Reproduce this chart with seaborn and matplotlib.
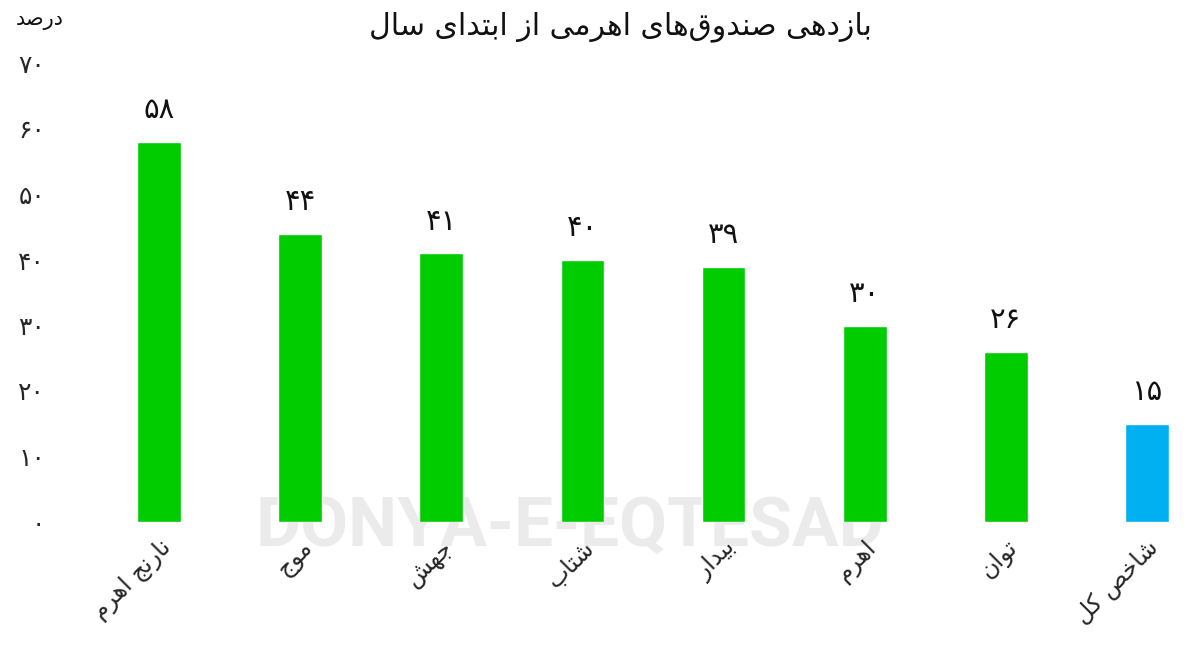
import matplotlib
matplotlib.use("Agg")
import matplotlib.pyplot as plt
import seaborn as sns

# ---------------- data ----------------
categories = ["نارنج اهرم", "موج", "جهش", "شتاب", "بیدار", "اهرم", "توان", "شاخص کل"]
values = [58, 44, 41, 40, 39, 30, 26, 15]
bar_colors = ["#00CC00", "#00CC00", "#00CC00", "#00CC00", "#00CC00", "#00CC00", "#00CC00", "#00B0F0"]
y_ticks = [0, 10, 20, 30, 40, 50, 60, 70]
title_text = "بازدهی صندوق\u200cهای اهرمی از ابتدای سال"
unit_text = "درصد"
watermark_text = "DONYA-E-EQTESAD"

# ---------------- simple Persian shaping ----------------
FORMS = {
    "\u0627": ("\uFE8D", "\uFE8E", None, None),
    "\u0622": ("\uFE81", "\uFE82", None, None),
    "\u0628": ("\uFE8F", "\uFE90", "\uFE91", "\uFE92"),
    "\u067E": ("\uFB56", "\uFB57", "\uFB58", "\uFB59"),
    "\u062A": ("\uFE95", "\uFE96", "\uFE97", "\uFE98"),
    "\u062B": ("\uFE99", "\uFE9A", "\uFE9B", "\uFE9C"),
    "\u062C": ("\uFE9D", "\uFE9E", "\uFE9F", "\uFEA0"),
    "\u0686": ("\uFB7A", "\uFB7B", "\uFB7C", "\uFB7D"),
    "\u062D": ("\uFEA1", "\uFEA2", "\uFEA3", "\uFEA4"),
    "\u062E": ("\uFEA5", "\uFEA6", "\uFEA7", "\uFEA8"),
    "\u062F": ("\uFEA9", "\uFEAA", None, None),
    "\u0630": ("\uFEAB", "\uFEAC", None, None),
    "\u0631": ("\uFEAD", "\uFEAE", None, None),
    "\u0632": ("\uFEAF", "\uFEB0", None, None),
    "\u0698": ("\uFB8A", "\uFB8B", None, None),
    "\u0633": ("\uFEB1", "\uFEB2", "\uFEB3", "\uFEB4"),
    "\u0634": ("\uFEB5", "\uFEB6", "\uFEB7", "\uFEB8"),
    "\u0635": ("\uFEB9", "\uFEBA", "\uFEBB", "\uFEBC"),
    "\u0636": ("\uFEBD", "\uFEBE", "\uFEBF", "\uFEC0"),
    "\u0637": ("\uFEC1", "\uFEC2", "\uFEC3", "\uFEC4"),
    "\u0638": ("\uFEC5", "\uFEC6", "\uFEC7", "\uFEC8"),
    "\u0639": ("\uFEC9", "\uFECA", "\uFECB", "\uFECC"),
    "\u063A": ("\uFECD", "\uFECE", "\uFECF", "\uFED0"),
    "\u0641": ("\uFED1", "\uFED2", "\uFED3", "\uFED4"),
    "\u0642": ("\uFED5", "\uFED6", "\uFED7", "\uFED8"),
    "\u06A9": ("\uFB8E", "\uFB8F", "\uFB90", "\uFB91"),
    "\u06AF": ("\uFB92", "\uFB93", "\uFB94", "\uFB95"),
    "\u0644": ("\uFEDD", "\uFEDE", "\uFEDF", "\uFEE0"),
    "\u0645": ("\uFEE1", "\uFEE2", "\uFEE3", "\uFEE4"),
    "\u0646": ("\uFEE5", "\uFEE6", "\uFEE7", "\uFEE8"),
    "\u0647": ("\uFEE9", "\uFEEA", "\uFEEB", "\uFEEC"),
    "\u0648": ("\uFEED", "\uFEEE", None, None),
    "\u06CC": ("\uFBFC", "\uFBFD", "\uFBFE", "\uFBFF"),
}


def shape(text):
    out = []
    n = len(text)
    for i, ch in enumerate(text):
        if ch not in FORMS:
            if ch != "\u200c":
                out.append(ch)
            continue
        iso, fin, ini, med = FORMS[ch]
        prev = text[i - 1] if i > 0 else None
        nxt = text[i + 1] if i + 1 < n else None
        pj = prev in FORMS and FORMS[prev][2] is not None
        nj = nxt in FORMS and ini is not None
        if pj and nj:
            out.append(med)
        elif pj:
            out.append(fin)
        elif nj:
            out.append(ini)
        else:
            out.append(iso)
    return "".join(out[::-1])


def fa_digits(v):
    return str(v).translate(str.maketrans("0123456789", "۰۱۲۳۴۵۶۷۸۹"))


# ---------------- plot ----------------
sns.set_theme(style="white")
plt.rcParams["font.family"] = ["DejaVu Sans"]

fig = plt.figure(figsize=(12, 6.47), dpi=100)
ax = fig.add_axes([70 / 1200, (647 - 522) / 647, 1130 / 1200, (522 - 63.5) / 647])

ax.text(570 / 1200, 1 - 528 / 647, watermark_text, transform=fig.transFigure,
        ha="center", va="center", fontsize=50, fontweight="bold",
        family=["Roboto", "DejaVu Sans"], color="#ebebeb", zorder=0)

labels_shaped = [shape(c) for c in categories]
sns.barplot(x=labels_shaped, y=values, hue=labels_shaped, palette=bar_colors,
            width=0.31, saturation=1, legend=False, ax=ax, zorder=2)

ax.set_ylim(0, 70)
ax.set_xlim(-(159 - 70) / (988 / 7), 7 + (1200 - 1147) / (988 / 7))

for p in ax.patches:
    h = p.get_height()
    ax.annotate(fa_digits(int(round(h))), (p.get_x() + p.get_width() / 2, h),
                xytext=(0, 23), textcoords="offset points", ha="center", va="center",
                fontsize=21, color="#111111")

ax.set_yticks(y_ticks)
ax.set_yticklabels([fa_digits(t) for t in y_ticks], fontsize=18)
ax.tick_params(axis="y", length=0, pad=18)
ax.tick_params(axis="x", length=0, pad=10)
for lab in ax.get_xticklabels():
    lab.set_rotation(45)
    lab.set_ha("right")
    lab.set_va("top")
    lab.set_rotation_mode("anchor")
    lab.set_fontsize(17)

ax.set_xlabel("")
ax.set_ylabel("")
for s in ax.spines.values():
    s.set_visible(False)
ax.grid(False)
ax.set_facecolor("none")

fig.text(620 / 1200, 1 - 27 / 647, shape(title_text), ha="center", va="center",
         fontsize=21.5, color="#111111")
fig.text(40 / 1200, 1 - 20 / 647, shape(unit_text), ha="center", va="center",
         fontsize=15, color="#111111")

fig.savefig("out.png", dpi=100, facecolor="white")
